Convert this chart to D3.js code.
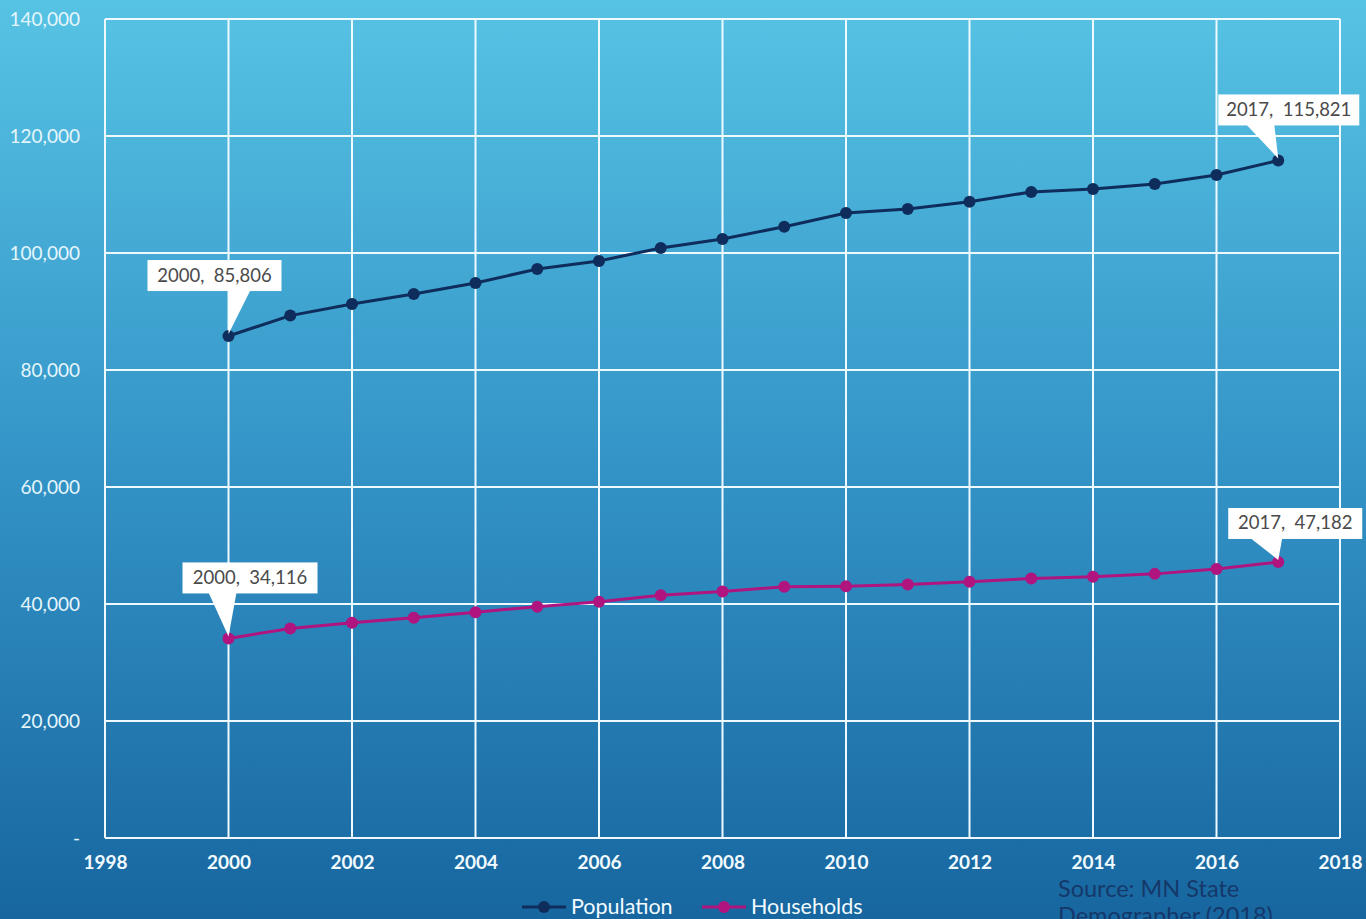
<!DOCTYPE html>
<html>
<head>
<meta charset="utf-8">
<script src="https://cdn.jsdelivr.net/npm/d3@7"></script>
<style>
  html, body { margin: 0; padding: 0; }
  body { width: 1366px; height: 919px; overflow: hidden; }
  svg { display: block; }
</style>
</head>
<body>
<svg id="chart" width="1366" height="919"></svg>
<script>
// Years and series values (population and households)
const years = [2000, 2001, 2002, 2003, 2004, 2005, 2006, 2007, 2008, 2009, 2010, 2011, 2012, 2013, 2014, 2015, 2016, 2017];
const population = [85806, 89300, 91280, 92990, 94870, 97260, 98630, 100860, 102390, 104500, 106840, 107520, 108770, 110430, 110940, 111800, 113330, 115821];
const households = [34116, 35800, 36800, 37650, 38600, 39550, 40400, 41500, 42150, 42950, 43050, 43350, 43800, 44350, 44650, 45150, 45980, 47182];

// Axis ticks
const xTicks = [1998, 2000, 2002, 2004, 2006, 2008, 2010, 2012, 2014, 2016, 2018];
const yTicks = [0, 20000, 40000, 60000, 80000, 100000, 120000, 140000];

// Series names and source note
const seriesNames = ["Population", "Households"];
const sourceLines = ["Source: MN State", "Demographer (2018)"];

const W = 1366, H = 919;
const margin = { left: 105, right: 26, top: 19, bottom: 81 };
const svg = d3.select("#chart");

// Background gradient
const defs = svg.append("defs");
const grad = defs.append("linearGradient").attr("id", "bg").attr("x1", 0).attr("y1", 0).attr("x2", 0).attr("y2", 1);
grad.append("stop").attr("offset", "0%").attr("stop-color", "#57c3e4");
grad.append("stop").attr("offset", "50%").attr("stop-color", "#3494c7");
grad.append("stop").attr("offset", "100%").attr("stop-color", "#17669f");
svg.append("rect").attr("width", W).attr("height", H).attr("fill", "url(#bg)");

const x = d3.scaleLinear().domain([1998, 2018]).range([margin.left, W - margin.right]);
const y = d3.scaleLinear().domain([0, 140000]).range([H - margin.bottom, margin.top]);

const FONT = "'Lato', 'Open Sans', sans-serif";

// Gridlines
const grid = svg.append("g");
grid.selectAll("line.h").data(yTicks).join("line")
  .attr("x1", x(1998)).attr("x2", x(2018))
  .attr("y1", d => y(d)).attr("y2", d => y(d))
  .attr("stroke", "#eefaff").attr("stroke-width", 2);
grid.selectAll("line.v").data(xTicks).join("line")
  .attr("y1", y(0)).attr("y2", y(140000))
  .attr("x1", d => x(d)).attr("x2", d => x(d))
  .attr("stroke", "#eefaff").attr("stroke-width", 2);

// Y axis labels
const yAxis = d3.axisLeft(y).tickValues(yTicks).tickSize(0).tickPadding(25)
  .tickFormat(d => d === 0 ? "-" : d3.format(",")(d));
const gy = svg.append("g").attr("transform", `translate(${margin.left},0)`).call(yAxis);
gy.select(".domain").remove();
gy.selectAll("text").attr("fill", "#e4f6fc").attr("font-family", FONT).attr("font-size", 19);

// X axis labels
const xAxis = d3.axisBottom(x).tickValues(xTicks).tickSize(0).tickPadding(18).tickFormat(d3.format("d"));
const gx = svg.append("g").attr("transform", `translate(0,${y(0)})`).call(xAxis);
gx.select(".domain").remove();
gx.selectAll("text").attr("fill", "#f2fbff").attr("font-family", FONT).attr("font-size", 19).attr("font-weight", "bold");

// Lines and markers
const series = [
  { name: seriesNames[0], values: population, color: "#0f2d5c" },
  { name: seriesNames[1], values: households, color: "#b0147f" }
];
const line = d3.line().x((d, i) => x(years[i])).y(d => y(d));
series.forEach(s => {
  svg.append("path").datum(s.values).attr("d", line)
    .attr("fill", "none").attr("stroke", s.color).attr("stroke-width", 3);
  svg.append("g").selectAll("circle").data(s.values).join("circle")
    .attr("cx", (d, i) => x(years[i])).attr("cy", d => y(d)).attr("r", 6)
    .attr("fill", s.color);
});

// Callouts for first and last points
const fmt = d3.format(",");
const callouts = [
  { year: years[0], value: population[0], bx: -81, by: -76, bw: 134, bh: 31, b1: 0, b2: 22 },
  { year: years[17], value: population[17], bx: -60, by: -66, bw: 141, bh: 31, b1: -32, b2: -4 },
  { year: years[0], value: households[0], bx: -46, by: -76, bw: 135, bh: 31, b1: -20, b2: 8 },
  { year: years[17], value: households[17], bx: -50, by: -54, bw: 134, bh: 31, b1: -28, b2: 4 }
];
callouts.forEach(c => {
  const px = x(c.year), py = y(c.value);
  const left = px + c.bx, top = py + c.by, bottom = top + c.bh;
  const g = svg.append("g");
  g.append("path")
    .attr("d", `M${px + c.b1},${bottom - 1} L${px},${py - 2} L${px + c.b2},${bottom - 1} Z`)
    .attr("fill", "#ffffff");
  g.append("rect").attr("x", left).attr("y", top).attr("width", c.bw).attr("height", c.bh).attr("fill", "#ffffff");
  g.append("text").attr("x", left + c.bw / 2).attr("y", top + c.bh / 2 + 6)
    .attr("text-anchor", "middle").attr("font-family", FONT).attr("font-size", 18.5).attr("fill", "#4a4a4a")
    .attr("xml:space", "preserve")
    .text(`${c.year},  ${fmt(c.value)}`);
});

// Legend
const legend = svg.append("g").attr("transform", "translate(0,907)");
const legendItems = [
  { name: seriesNames[0], color: series[0].color, x0: 522 },
  { name: seriesNames[1], color: series[1].color, x0: 702 }
];
legendItems.forEach(it => {
  legend.append("line").attr("x1", it.x0).attr("x2", it.x0 + 44).attr("y1", 0).attr("y2", 0)
    .attr("stroke", it.color).attr("stroke-width", 3);
  legend.append("circle").attr("cx", it.x0 + 22).attr("cy", 0).attr("r", 6).attr("fill", it.color);
  legend.append("text").attr("x", it.x0 + 49).attr("y", 7).attr("font-family", FONT).attr("font-size", 21.5)
    .attr("fill", "#f2fbff").text(it.name);
});

// Source note
svg.append("g").selectAll("text").data(sourceLines).join("text")
  .attr("x", 1058).attr("y", (d, i) => 897 + i * 27)
  .attr("font-family", FONT).attr("font-size", 23.5).attr("fill", "#15386a")
  .text(d => d);
</script>
</body>
</html>
